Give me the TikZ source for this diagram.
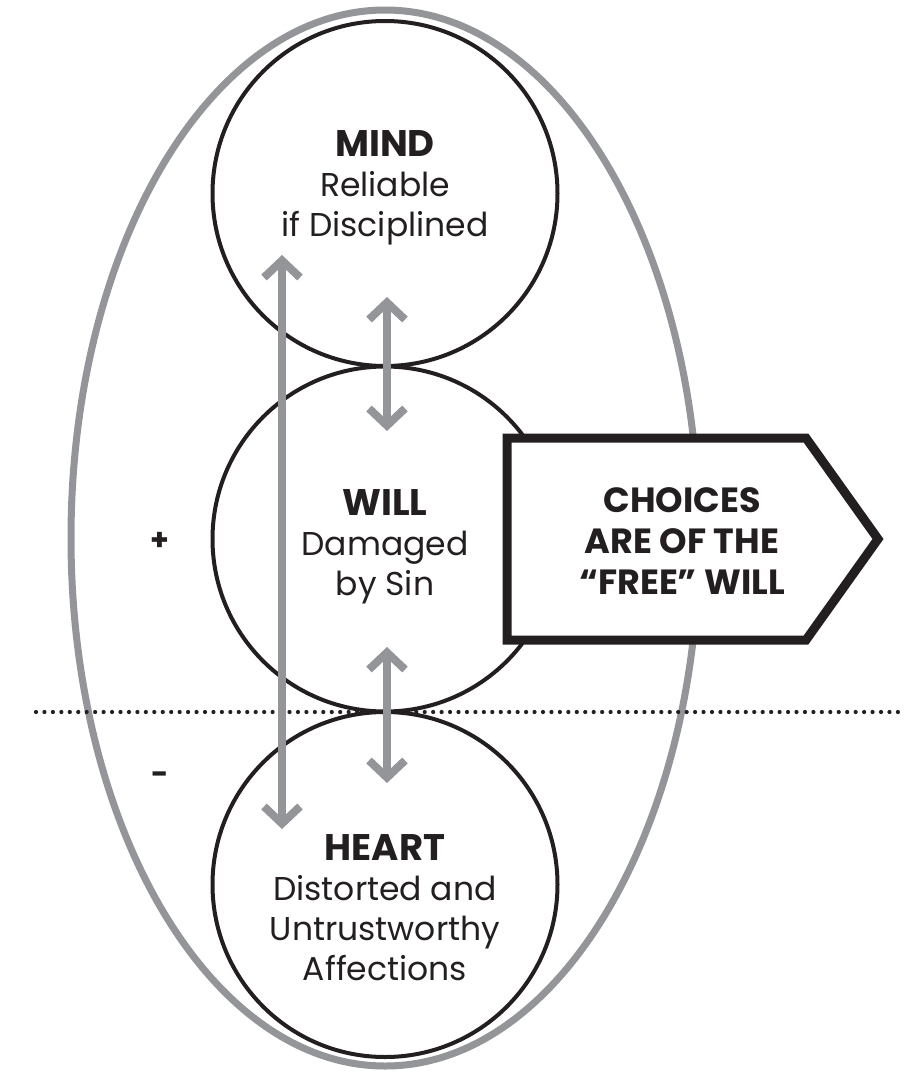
\documentclass[tikz,border=0pt]{standalone}
\usepackage{fontspec}
\setmainfont{Poppins}
\usetikzlibrary{arrows.meta}
\definecolor{eg}{HTML}{939598}
\definecolor{ink}{HTML}{231F20}
\newcommand{\ttlfont}{\fontsize{37}{40}\selectfont\bfseries}
\begin{document}
\begin{tikzpicture}[x=1pt,y=-1pt,
  circ/.style={draw=ink,line width=4pt,circle,minimum size=345pt,inner sep=0pt},
  body/.style={align=center,text=ink,font=\fontsize{33}{40}\selectfont,inner sep=0pt},
  boxtxt/.style={align=center,text=ink,font=\fontsize{35}{41}\selectfont\bfseries,inner sep=0pt},
  garrow/.style={draw=eg,line width=8pt,{Straight Barb[length=17pt,width=36pt]}-{Straight Barb[length=17pt,width=36pt]}},
  dots/.style={draw=ink,line width=4.2pt,line cap=round,dash pattern=on 0pt off 8.45pt},
  sign/.style={text=ink,font=\fontsize{30}{30}\selectfont\bfseries,inner sep=0pt}]
\useasboundingbox (0,0) rectangle (914,1080);
\fill[white] (0,0) rectangle (914,1080);
% outer ellipse
\draw[eg,line width=7pt] (385,538) ellipse [x radius=314, y radius=528];
% circles
\node[circ] (mind) at (385,193.5) {};
\node[circ] (will) at (385,539) {};
\node[circ] (heart) at (385,884.5) {};
% dotted divider
\coordinate (d1) at (36,712);
\coordinate (d2) at (900,712);
\draw[dots] (d1) -- (d2);
% arrows
\coordinate (la1) at (282,255);
\coordinate (la2) at (282,829);
\coordinate (sa1) at (387,297);
\coordinate (sa2) at (387,431);
\coordinate (sb1) at (387,647);
\coordinate (sb2) at (387,783);
\draw[garrow] (la1) -- (la2);
\draw[garrow] (sa1) -- (sa2);
\draw[garrow] (sb1) -- (sb2);
% pentagon
\draw[draw=ink,fill=white,line width=9pt,miter limit=10] (507,438) -- (806,438) -- (878,539) -- (806,640) -- (507,640) -- cycle;
\node[boxtxt] (choices) at (682,541) {CHOICES\\ARE OF THE\\“FREE” WILL};
% texts
\node[body] (mindt) at (385,188) {{\ttlfont MIND}\\Reliable\\if Disciplined};
\node[body] (willt) at (385,546.5) {{\ttlfont WILL}\\Damaged\\by Sin};
\node[body] (heartt) at (385,908) {{\ttlfont HEART}\\Distorted and\\Untrustworthy\\Affections};
\node[sign] (plus) at (160,541) {+};
\node[sign] (minus) at (160,778) {-};
\end{tikzpicture}
\end{document}
